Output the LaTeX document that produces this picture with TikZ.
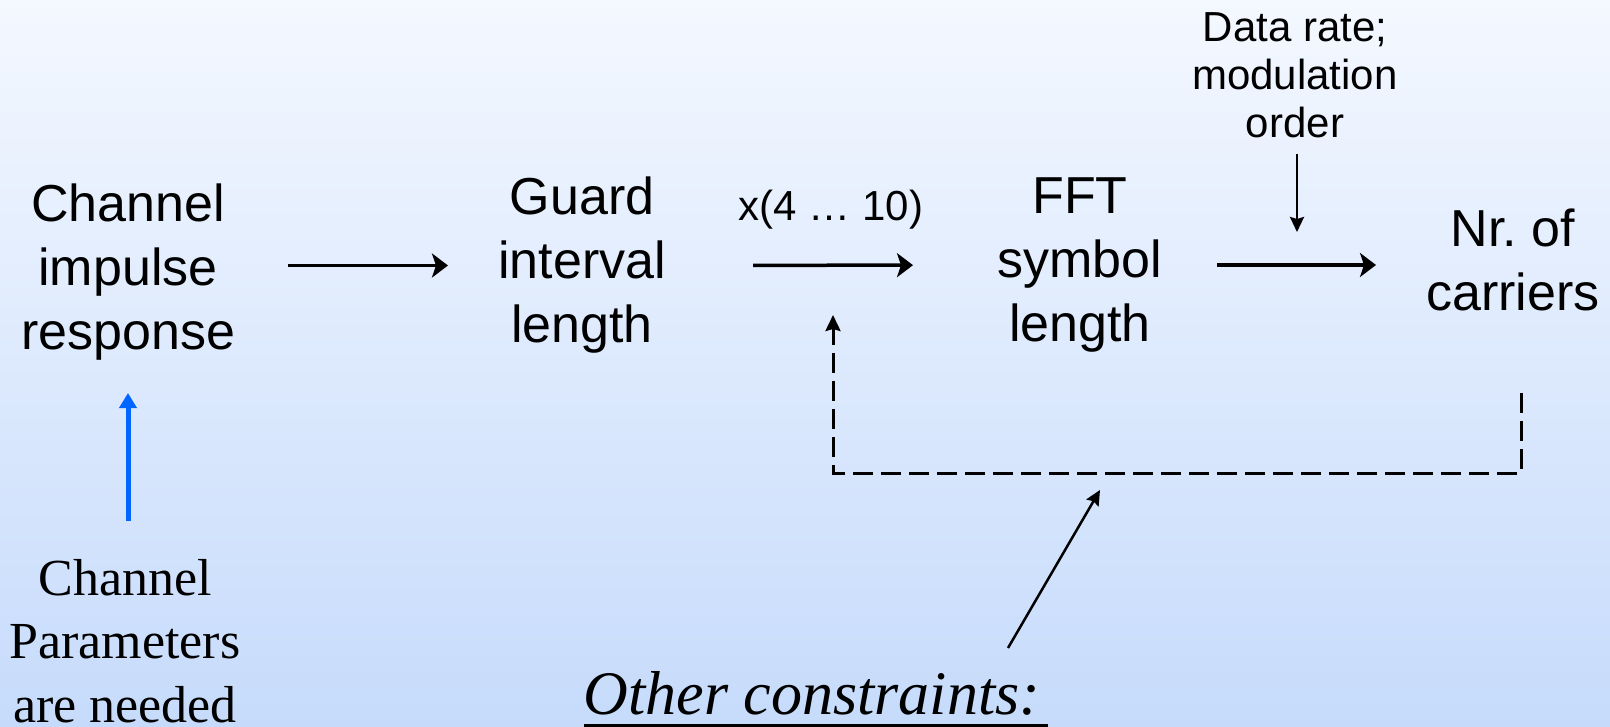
\documentclass[tikz,border=0pt]{standalone}
\usepackage{fontspec}
\setmainfont{Liberation Serif}
\newfontfamily\arialf{Liberation Sans}
\usetikzlibrary{arrows.meta}
\definecolor{bgtop}{RGB}{244,248,255}
\definecolor{bgbot}{RGB}{198,219,251}
\definecolor{blarrow}{RGB}{0,102,255}
\begin{document}
\begin{tikzpicture}[x=1pt,y=-1pt,
  big/.style={font=\arialf\fontsize{52}{64}\selectfont, align=center, inner sep=0pt},
  mid/.style={font=\arialf\fontsize{42}{48}\selectfont, align=center, inner sep=0pt},
  ser/.style={font=\fontsize{52}{63.5}\selectfont, align=center, inner sep=0pt},
  arr/.style={line width=3.5pt, -{Stealth[length=16pt,width=24pt,inset=4pt]}},
  thinarr/.style={line width=2.5pt, -{Stealth[length=15pt,width=14pt,inset=2pt]}},
  bluearr/.style={line width=5pt, draw=blarrow, -{Triangle[length=15pt,width=17pt]}},
  dasharr/.style={line width=3pt, dash pattern=on 20pt off 8pt, -{Stealth[length=16pt,width=15pt,inset=2pt]}}
]
\shade[top color=bgtop, bottom color=bgbot] (0,0) rectangle (1610,727);
\useasboundingbox (0,0) rectangle (1610,727);

\node[big] (chan) at (128,272.5) {Channel\\impulse\\response};
\node[big] (guard) at (582,265.5) {Guard\\interval\\length};
\node[big] (fft) at (1080,265) {FFT\\symbol\\length};
\node[big] (nr) at (1513,260) {Nr.\ of\\carriers};
\node[mid] (dr) at (1295,75.5) {Data rate;\\modulation\\order};
\node[ser] (chp) at (125,640.75) {Channel\\Parameters\\are needed};
\node[font=\itshape\fontsize{62}{64}\selectfont, inner sep=0pt, anchor=base] (ot) at (812,714) {Other constraints:};
\draw[line width=3pt] ([yshift=-11pt]ot.base west) -- ([yshift=-11pt,xshift=8pt]ot.base east);

\coordinate (dtip) at (1297,232);
\coordinate (fbs) at (1521,393);
\coordinate (fbc) at (1521,473);
\coordinate (fbe) at (833,315);
\coordinate (ots) at (1008,648);
\coordinate (ott) at (1100,490);

\draw[arr, shorten <=160pt, shorten >=134pt] (chan.center |- guard.center) -- (guard.center);
\draw[arr, shorten <=171pt, shorten >=167pt] (guard.center) -- (fft.center)
  node[pos=0.5, anchor=base, yshift=45pt, font=\arialf\fontsize{42}{48}\selectfont, inner sep=0pt] (xl) {x(4 … 10)};
\draw[arr, shorten <=137pt, shorten >=137pt] (fft.center) -- (fft.center -| nr.center);
\draw[bluearr, shorten <=119.75pt, shorten >=120.5pt] (chan.center |- chp.center) -- (chan.center);
\draw[thinarr, shorten <=78.3pt] (dr.center -| dtip) -- (dtip);
\draw[dasharr] (fbs) -- (fbc) -| (fbe);
\draw[thinarr] (ots) -- (ott);
\end{tikzpicture}
\end{document}
